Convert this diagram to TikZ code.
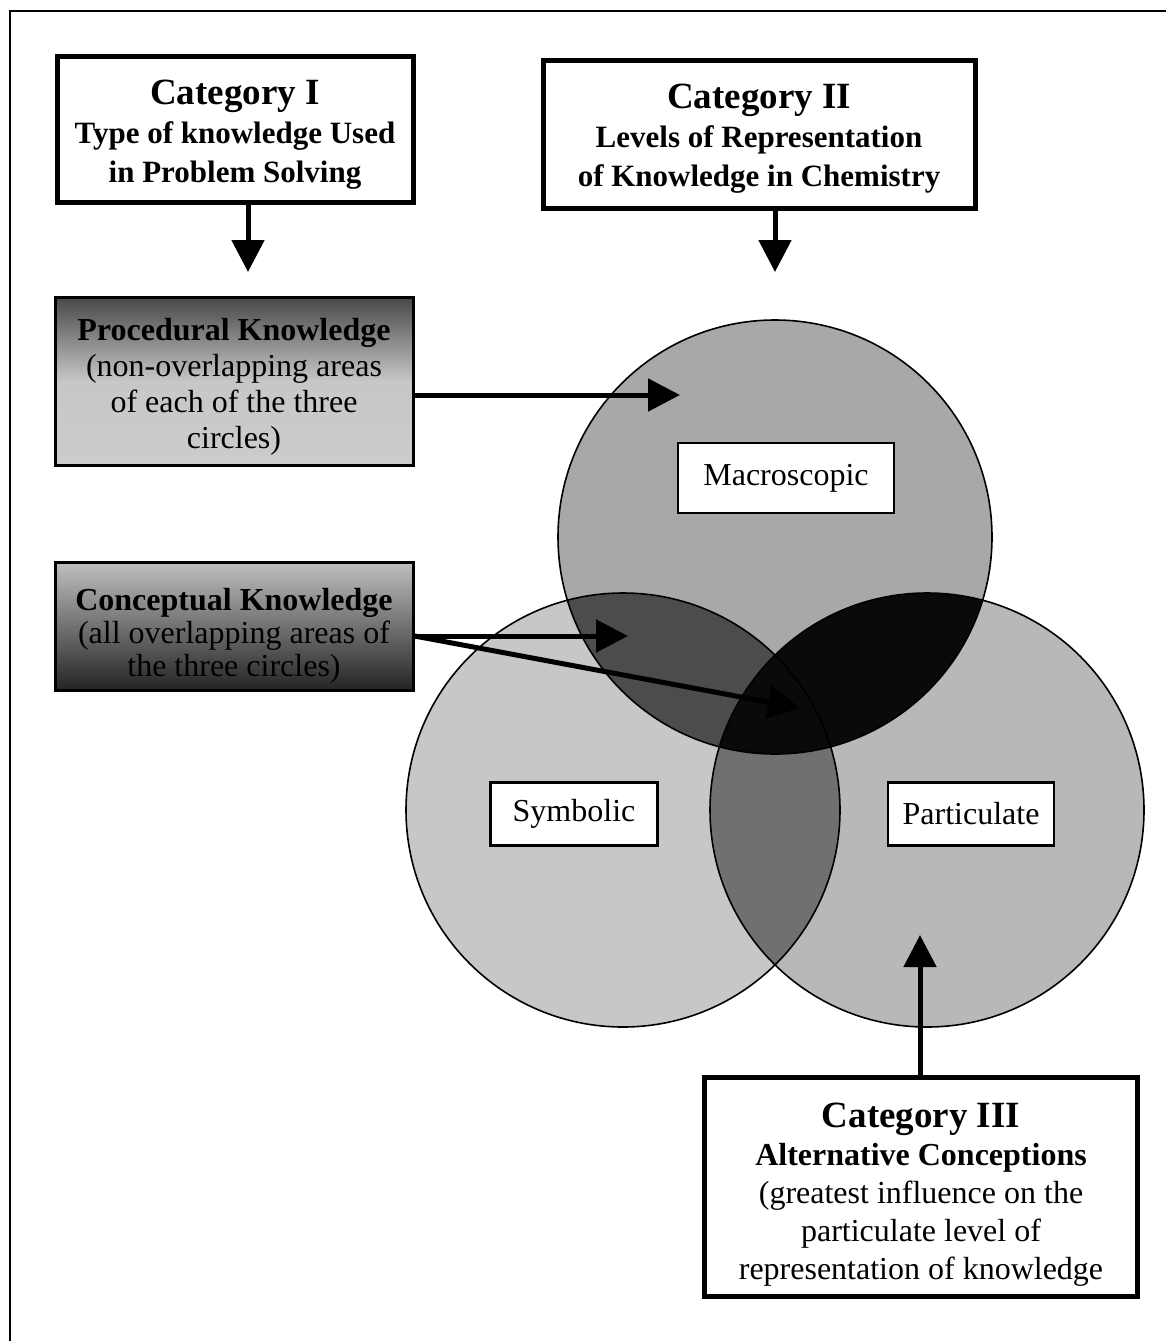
\documentclass[tikz,border=0pt]{standalone}
\usepackage{fontspec}
\setmainfont{Liberation Serif}
\usetikzlibrary{arrows.meta}

\definecolor{macroC}{gray}{0.66}
\definecolor{symbC}{gray}{0.78}
\definecolor{partC}{gray}{0.72}
\definecolor{lensMS}{gray}{0.30}
\definecolor{lensSP}{gray}{0.44}
\definecolor{lensMP}{gray}{0.04}

\newcommand{\topstrut}[1]{\rule{0pt}{#1}}
\newcommand{\botstrut}{\rule[-8pt]{0pt}{8pt}}

\begin{document}
% keep line spacing exactly at the baselineskip
\lineskiplimit=-100pt
\lineskip=0pt
\begin{tikzpicture}[x=1pt,y=-1pt,
  catbox/.style={draw=black, line width=5pt, fill=white, align=center,
    inner sep=0pt, font=\fontsize{31}{39}\selectfont\bfseries},
  infobox/.style={draw=black, line width=3pt, align=center, inner sep=0pt,
    font=\fontsize{32}{36}\selectfont},
  lvlbox/.style={draw=black, line width=2.5pt, fill=white, inner sep=0pt,
    font=\fontsize{32}{36}\selectfont},
  bigarrow/.style={line width=5pt, -{Triangle[length=32pt,width=32pt]}},
  ring/.style={draw=black, line width=1.6pt}
]
\useasboundingbox (0,0) rectangle (1166,1341);

% outer frame (open to the right and bottom)
\draw[line width=2pt] (10,1341) -- (10,11) -- (1166,11);

% circle centres
\coordinate (cM) at (775,537);
\coordinate (cS) at (623,810);
\coordinate (cP) at (927,810);

% base discs
\fill[macroC] (cM) circle (217);
\fill[symbC]  (cS) circle (217);
\fill[partC]  (cP) circle (217);
% pairwise overlaps
\begin{scope}
  \clip (cS) circle (217);
  \fill[lensSP] (cP) circle (217);
\end{scope}
\begin{scope}
  \clip (cM) circle (217);
  \fill[lensMS] (cS) circle (217);
  \fill[lensMP] (cP) circle (217);
\end{scope}
% outlines
\draw[ring] (cM) circle (217);
\draw[ring] (cS) circle (217);
\draw[ring] (cP) circle (217);

% level labels
\node[lvlbox, minimum width=216pt, minimum height=70pt] (macro) at (786,478) {Macroscopic};
\node[lvlbox, minimum width=167pt, minimum height=63pt] (symb) at (574,814) {Symbolic};
\node[lvlbox, minimum width=166pt, minimum height=63pt] (part) at (971,814) {Particulate};

% category boxes
\node[catbox, minimum width=356pt, minimum height=146pt] (cat1) at (235,129)
  {\topstrut{36pt}{\fontsize{37}{39}\selectfont Category I}\\
   Type of knowledge Used\\
   in Problem Solving\botstrut};
\node[catbox, minimum width=432pt, minimum height=148pt] (cat2) at (759,134)
  {\topstrut{35pt}{\fontsize{37}{39}\selectfont Category II}\\
   Levels of Representation\\
   of Knowledge in Chemistry\botstrut};
\node[catbox, minimum width=433pt, minimum height=219pt,
      font=\fontsize{32}{38}\selectfont] (cat3) at (921,1187)
  {\topstrut{40pt}{\bfseries\fontsize{37}{38}\selectfont Category III}\\
   \textbf{Alternative Conceptions}\\
   (greatest influence on the\\
   particulate level of\\
   representation of knowledge\botstrut};

% knowledge-type boxes
\node[infobox, minimum width=358pt, minimum height=168pt,
      top color=black!72, bottom color=black!20, middle color=black!22] (proc) at (234,381)
  {\topstrut{34pt}\textbf{Procedural Knowledge}\\
   (non-overlapping areas\\
   of each of the three\\
   circles)\botstrut};
\node[infobox, minimum width=358pt, minimum height=128pt,
      font=\fontsize{32}{33}\selectfont,
      top color=black!25, bottom color=black!86] (conc) at (234,626)
  {\topstrut{42pt}\textbf{Conceptual Knowledge}\\
   (all overlapping areas of\\
   the three circles)\botstrut};

% arrow end points
\coordinate (t1) at (248,272);
\coordinate (t2) at (775,272);
\coordinate (tp) at (680,395);
\coordinate (tc1) at (628,636);
\coordinate (tc2) at (800,708);
\coordinate (t3) at (920,935);

% connectors
\draw[bigarrow] (cat1.south -| t1) -- (t1);
\draw[bigarrow] (cat2.south -| t2) -- (t2);
\draw[bigarrow] (proc.east |- tp) -- (tp);
\draw[bigarrow] (conc.east |- tc1) -- (tc1);
\draw[bigarrow] (conc.east |- tc1) -- (tc2);
\draw[bigarrow] (cat3.north -| t3) -- (t3);
\end{tikzpicture}
\end{document}
